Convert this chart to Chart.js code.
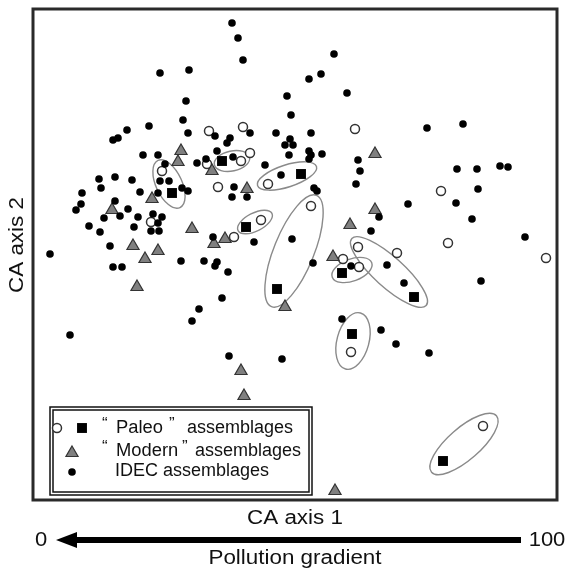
<!DOCTYPE html>
<html lang="en">
<head>
    <meta charset="UTF-8">
    <title>CA ordination</title>
    <script src="https://cdn.jsdelivr.net/npm/chart.js@4.4.0/dist/chart.umd.min.js"></script>
    <style>
        body { margin: 0; background: #fff; }
        #wrap { width: 574px; height: 570px; }
    </style>
</head>
<body>
    <div id="wrap"><canvas id="ca" width="574" height="570"></canvas></div>
    <script>
        // CA scores (arbitrary units, axis 2 grows downwards)
        const axis1Range = [33, 557];
        const axis2Range = [9, 500];

        const idecPoints = [
            [232, 23], [238, 38], [243, 60], [160, 73], [189, 70], [186, 101], [287, 96], [291, 115], [183, 120],
            [149, 126], [127, 130], [118, 138], [113, 140], [188, 133], [215, 136], [230, 138], [227, 143], [250, 133],
            [276, 133], [290, 139], [285, 145], [293, 145], [289, 155], [143, 155], [158, 155], [165, 164], [197, 163],
            [206, 159], [217, 151], [233, 157], [265, 165], [281, 175], [160, 181], [169, 181], [182, 188], [188, 191],
            [158, 193], [99, 179], [101, 188], [115, 177], [132, 180], [140, 192], [82, 193], [81, 204], [76, 210],
            [115, 201], [128, 209], [120, 216], [104, 218], [89, 226], [100, 232], [138, 217], [134, 227], [153, 214],
            [162, 217], [158, 223], [151, 231], [159, 231], [232, 197], [247, 197], [234, 187], [110, 246], [213, 237],
            [254, 242], [292, 239], [50, 254], [334, 54], [309, 79], [321, 74], [347, 93], [311, 133], [309, 151],
            [311, 155], [309, 159], [322, 154], [358, 160], [360, 171], [356, 184], [314, 188], [317, 191], [427, 128],
            [463, 124], [457, 169], [477, 169], [500, 166], [508, 167], [478, 189], [408, 204], [456, 203], [472, 219],
            [525, 237], [379, 217], [371, 231], [113, 267], [122, 267], [181, 261], [204, 261], [217, 262], [215, 266],
            [228, 272], [222, 298], [199, 309], [192, 321], [70, 335], [229, 356], [282, 359], [313, 263], [351, 266],
            [387, 265], [404, 283], [481, 281], [342, 319], [381, 330], [396, 344], [429, 353]
        ];
        const paleoOpen = [
            [209, 131], [243, 127], [250, 153], [241, 161], [207, 164], [162, 171], [218, 187], [268, 184], [261, 220],
            [234, 237], [151, 222], [355, 129], [441, 191], [311, 206], [448, 243], [358, 247], [397, 253], [546, 258],
            [343, 259], [359, 267], [351, 352], [483, 426]
        ];
        const paleoFilled = [
            [222, 161], [172, 193], [246, 227], [301, 174], [277, 289], [342, 273], [414, 297], [352, 334], [443, 461]
        ];
        const modernPoints = [
            [181, 151], [178, 162], [212, 171], [247, 189], [152, 199], [112, 210], [192, 229], [225, 239], [214, 244],
            [133, 246], [158, 251], [145, 259], [137, 287], [241, 371], [244, 396], [285, 307], [375, 154], [375, 210],
            [350, 225], [333, 257], [335, 491]
        ];
        // paired samples: centre (axis units), half axes, tilt in degrees
        const pairCentres = [[169, 184], [232, 161], [287, 176], [255, 222], [294, 251], [352, 270], [389, 272], [353, 341], [464, 444]];
        const pairRadii = [[26, 13], [18, 10], [31, 11], [19, 9], [60, 20], [21, 11], [50, 15], [29, 16], [43, 16]];
        const pairTilt = [65, -12, -18, -27, -68, -20, 42, -75, -41];

        const legendLabels = ['Paleo', 'Modern', 'IDEC assemblages'];
        const axisTitles = ['CA axis 1', 'CA axis 2'];
        const gradientTitle = 'Pollution gradient';
        const gradientEnds = ['0', '100'];

        const toXY = arr => arr.map(p => ({ x: p[0], y: p[1] }));
        const FONT = '"Liberation Sans", Arial, sans-serif';

        function wideText(ctx, text, x, y, size, stretch, align) {
            ctx.save();
            ctx.font = size + 'px ' + FONT;
            ctx.translate(x, y);
            ctx.scale(stretch, 1);
            ctx.textAlign = align || 'center';
            ctx.textBaseline = 'middle';
            ctx.fillText(text, 0, 0);
            ctx.restore();
        }

        const decorations = {
            id: 'decorations',
            beforeDatasetsDraw(chart) {
                const { ctx, scales: { x, y } } = chart;
                ctx.save();
                ctx.strokeStyle = '#8a8a8a';
                ctx.lineWidth = 1.4;
                pairCentres.forEach((c, i) => {
                    const cx = x.getPixelForValue(c[0]);
                    const cy = y.getPixelForValue(c[1]);
                    const rx = Math.abs(x.getPixelForValue(c[0] + pairRadii[i][0]) - cx);
                    const ry = Math.abs(y.getPixelForValue(c[1] + pairRadii[i][1]) - cy);
                    ctx.beginPath();
                    ctx.ellipse(cx, cy, rx, ry, pairTilt[i] * Math.PI / 180, 0, Math.PI * 2);
                    ctx.stroke();
                });
                ctx.restore();
            },
            afterDraw(chart) {
                const { ctx, chartArea: a } = chart;
                ctx.save();
                // frame
                ctx.strokeStyle = '#2a2a2a';
                ctx.lineWidth = 3;
                ctx.strokeRect(a.left, a.top, a.right - a.left, a.bottom - a.top);

                // legend box
                ctx.lineWidth = 1.5;
                ctx.strokeStyle = '#111';
                ctx.strokeRect(50, 407, 262, 88);
                ctx.strokeRect(53, 410, 256, 82);

                const draw = Chart.helpers.drawPoint;
                ctx.fillStyle = '#fff'; ctx.strokeStyle = '#333'; ctx.lineWidth = 1.5;
                draw(ctx, { pointStyle: 'circle', radius: 4.5, borderWidth: 1.5, rotation: 0 }, 57, 428);
                ctx.fillStyle = '#000';
                draw(ctx, { pointStyle: 'rect', radius: 7, borderWidth: 0, rotation: 0 }, 82, 428);
                ctx.fillStyle = '#808080'; ctx.strokeStyle = '#333'; ctx.lineWidth = 1.2;
                draw(ctx, { pointStyle: 'triangle', radius: 7, borderWidth: 1.2, rotation: 0 }, 72, 453);
                ctx.fillStyle = '#000';
                draw(ctx, { pointStyle: 'circle', radius: 3.8, borderWidth: 0, rotation: 0 }, 72, 472);

                ctx.fillStyle = '#111';
                wideText(ctx, '\u201C', 102, 424, 17, 1, 'left');
                wideText(ctx, legendLabels[0], 116, 428, 18, 1.02, 'left');
                wideText(ctx, '\u201D', 169, 424, 17, 1, 'left');
                wideText(ctx, 'assemblages', 187, 428, 18, 1.0, 'left');
                wideText(ctx, '\u201C', 102, 447, 17, 1, 'left');
                wideText(ctx, legendLabels[1], 116, 451, 18, 1.02, 'left');
                wideText(ctx, '\u201D', 182, 447, 17, 1, 'left');
                wideText(ctx, 'assemblages', 195, 451, 18, 1.0, 'left');
                wideText(ctx, legendLabels[2], 115, 471, 18, 1.0, 'left');

                // axis titles
                const midX = (a.left + a.right) / 2;
                wideText(ctx, axisTitles[0], midX, 518, 20, 1.12);
                ctx.save();
                ctx.translate(17, 245);
                ctx.rotate(-Math.PI / 2);
                wideText(ctx, axisTitles[1], 0, 0, 20, 1.12);
                ctx.restore();

                // pollution gradient arrow
                ctx.fillStyle = '#000';
                ctx.fillRect(70, 537, 451, 6);
                ctx.beginPath();
                ctx.moveTo(56, 540);
                ctx.lineTo(77, 532);
                ctx.lineTo(77, 548);
                ctx.closePath();
                ctx.fill();
                ctx.fillStyle = '#111';
                wideText(ctx, gradientEnds[0], 41, 540, 20, 1.1);
                wideText(ctx, gradientEnds[1], 547, 540, 20, 1.1);
                wideText(ctx, gradientTitle, midX, 558, 20, 1.12);
                ctx.restore();
            }
        };

        new Chart(document.getElementById('ca'), {
            type: 'scatter',
            data: {
                datasets: [
                    {
                        label: 'IDEC assemblages', data: toXY(idecPoints), pointStyle: 'circle',
                        pointRadius: 3.8, backgroundColor: '#000', borderWidth: 0
                    },
                    {
                        label: 'Modern assemblages', data: toXY(modernPoints), pointStyle: 'triangle',
                        pointRadius: 7, backgroundColor: '#808080', borderColor: '#333', borderWidth: 1.2
                    },
                    {
                        label: 'Paleo assemblages (open)', data: toXY(paleoOpen), pointStyle: 'circle',
                        pointRadius: 4.5, backgroundColor: '#fff', borderColor: '#333', borderWidth: 1.5
                    },
                    {
                        label: 'Paleo assemblages', data: toXY(paleoFilled), pointStyle: 'rect',
                        pointRadius: 7, backgroundColor: '#000', borderWidth: 0
                    }
                ]
            },
            options: {
                responsive: false,
                animation: false,
                clip: false,
                layout: { padding: { left: 33, top: 9, right: 17, bottom: 70 } },
                plugins: { legend: { display: false }, tooltip: { enabled: false } },
                scales: {
                    x: { display: false, min: axis1Range[0], max: axis1Range[1] },
                    y: { display: false, min: axis2Range[0], max: axis2Range[1], reverse: true }
                }
            },
            plugins: [decorations]
        });
    </script>
</body>
</html>
